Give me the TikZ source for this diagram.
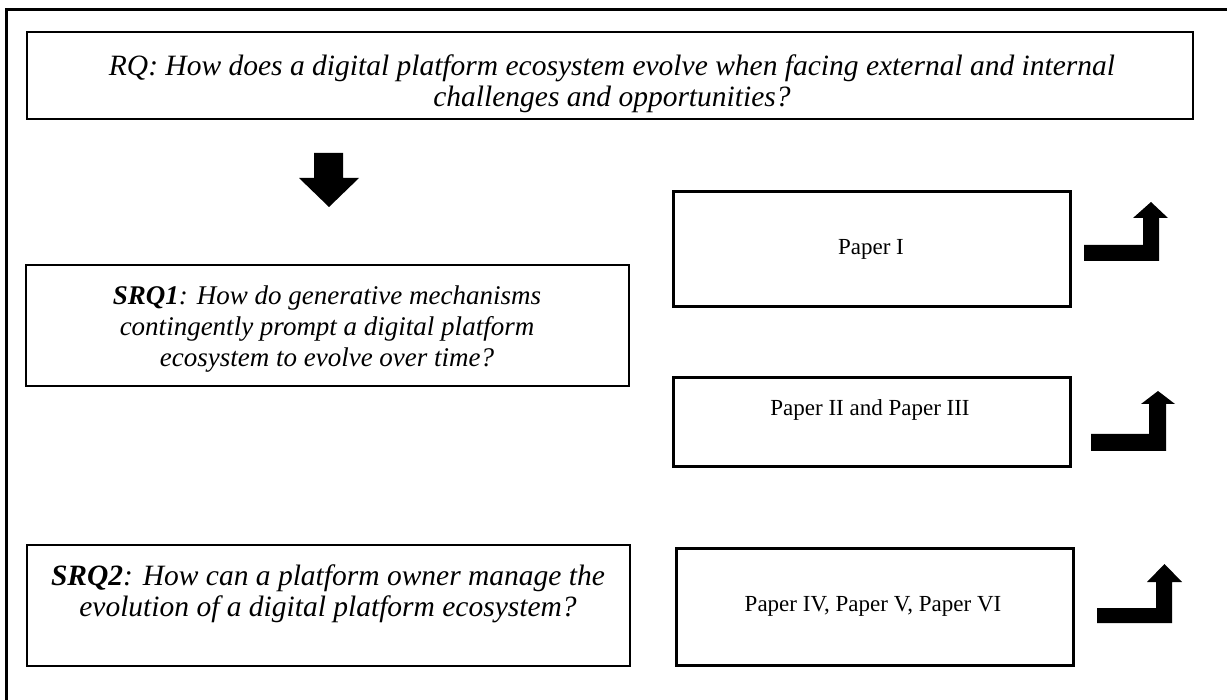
\documentclass[tikz,border=0pt]{standalone}
\usepackage{fontspec}
\setmainfont{Liberation Serif}
\begin{document}
\begin{tikzpicture}[x=1pt,y=-1pt,
  thinbox/.style={draw, line width=1.2pt, inner sep=0pt},
  thickbox/.style={draw, line width=3pt, inner sep=0pt},
  qtext/.style={align=center, inner sep=0pt, font=\fontsize{29.5}{31.5}\selectfont\itshape},
  qtexts/.style={align=center, inner sep=0pt, font=\fontsize{27}{31}\selectfont\itshape},
  ptext/.style={align=center, inner sep=0pt, font=\fontsize{23}{31}\selectfont},
  blockarrow/.style={fill=black}]
\clip (0,0) rectangle (1227,700);
\fill[white] (0,0) rectangle (1227,700);
% outer frame
\draw[line width=3pt] (6,720) -- (6,10) -- (1240,10);
% boxes
\node[thinbox, minimum width=1166pt, minimum height=87pt] (rqbox) at (610,75.5) {};
\node[qtext] (rq) at (612,84) {RQ: How does a digital platform ecosystem evolve when facing external and internal\\challenges and opportunities?};
\node[thinbox, minimum width=603pt, minimum height=121pt] (s1box) at (327.5,325.5) {};
\node[qtexts] (s1) at (327,329) {\textbf{SRQ1}: How do generative mechanisms\\contingently prompt a digital platform\\ecosystem to evolve over time?};
\node[thinbox, minimum width=603pt, minimum height=121pt] (s2box) at (328.5,605.5) {};
\node[qtext] (s2) at (328,594) {\textbf{SRQ2}: How can a platform owner manage the\\evolution of a digital platform ecosystem?};
\node[thickbox, minimum width=397pt, minimum height=115pt] (p1box) at (871.5,249.5) {};
\node[ptext] (p1) at (871,249) {Paper I};
\node[thickbox, minimum width=397pt, minimum height=89pt] (p2box) at (871.5,422.5) {};
\node[ptext] (p2) at (870,410) {Paper II and Paper III};
\node[thickbox, minimum width=397pt, minimum height=117pt] (p4box) at (874.5,606.5) {};
\node[ptext] (p4) at (873,606) {Paper IV, Paper V, Paper VI};
% down arrow
\fill[blockarrow] (314,153) -- (343,153) -- (343,178) -- (359,178) -- (329,207) -- (299,178) -- (314,178) -- cycle;
% bent arrows
\fill[blockarrow] (1084,245) -- (1143,245) -- (1143,218) -- (1133,218) -- (1151,202) -- (1168,218) -- (1159,218) -- (1159,261) -- (1084,261) -- cycle;
\fill[blockarrow] (1091,434) -- (1149,434) -- (1149,404) -- (1141,404) -- (1158,391) -- (1175,404) -- (1166,404) -- (1166,451) -- (1091,451) -- cycle;
\fill[blockarrow] (1097,608) -- (1156,608) -- (1156,582) -- (1147,582) -- (1164.5,564) -- (1182,582) -- (1172,582) -- (1172,623) -- (1097,623) -- cycle;
\end{tikzpicture}
\end{document}
